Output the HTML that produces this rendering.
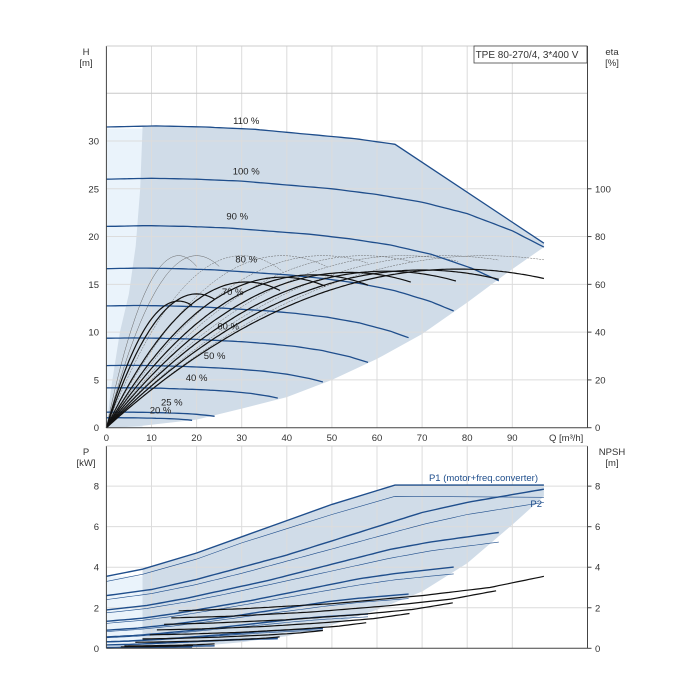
<!DOCTYPE html>
<html><head><meta charset="utf-8"><style>
body{margin:0;background:#fff}
svg{display:block;font-family:"Liberation Sans",sans-serif}
</style></head><body>
<svg id="c" width="700" height="700" viewBox="0 0 700 700"></svg>
<script>
const speeds=[1.1,1.0,0.9,0.8,0.7,0.6,0.5,0.4,0.25,0.2];
const speedLabels=["110 %","100 %","90 %","80 %","70 %","60 %","50 %","40 %","25 %","20 %"];
const labelQ=[31,31,29,31,28,27,24,20,14.5,12];
const labelH=[31.8,26.5,21.8,17.3,13.9,10.3,7.2,4.9,2.3,1.5];
const h100Q=[0,10,20,30,40,50,60,65,70,80,90,97];
const h100H=[26,26.1,26.0,25.8,25.4,25.0,24.4,24.0,23.6,22.4,20.6,18.9];
const maxPowerQ=[64,97];const maxPowerH=[29.3,19.3];
const etaPeakQ=[82,78,70,62,54,46,39,31,20,16];
const etaPeakVal=[66.5,66.4,66,65.5,65,64,63,61,56,53];
const thinPeakQ=[16,20,30,39,48,57,66,75,84];
const thinEndQ=[20,25,39,49,58,68,78,87,97];
const thinPeakEta=[72,72,72,72,72,72,72,72,72];
const p1Q=[0,10,20,30,40,50,60,70,80,97];
const p1P=[2.6,2.9,3.4,4.0,4.6,5.3,6.0,6.7,7.2,7.85];
const p2P=[2.4,2.7,3.15,3.7,4.3,4.9,5.5,6.1,6.6,7.2];
const p1Top=[[0,3.55],[8,3.9],[20,4.7],[30,5.5],[40,6.3],[50,7.1],[64,8.05],[97,8.05]];
const p2Top=[[0,3.3],[8,3.65],[20,4.4],[30,5.2],[40,5.9],[50,6.6],[64,7.5],[97,7.45]];
const npQ=[16,30,50,70,85,97];
const npV=[1.85,1.95,2.2,2.6,3.0,3.55];
const xTicks=[0,10,20,30,40,50,60,70,80,90];
const hTicks=[0,5,10,15,20,25,30];
const etaTicks=[0,20,40,60,80,100];
const pTicks=[0,2,4,6,8];

const R=587.5;
const X=q=>106.4+q*4.51, Y=h=>427.7-h*9.557, YE=e=>Y(e/4), YP=p=>648.3-p*20.27;
const svg=document.getElementById('c');const NS='http://www.w3.org/2000/svg';
function el(t,a,txt){const e=document.createElementNS(NS,t);for(const k in a)e.setAttribute(k,a[k]);if(txt!=null)e.textContent=txt;svg.appendChild(e);return e;}
function interp(xs,ys,x){if(x<=xs[0])return ys[0];for(let i=1;i<xs.length;i++)if(x<=xs[i]){const t=(x-xs[i-1])/(xs[i]-xs[i-1]);return ys[i-1]+t*(ys[i]-ys[i-1]);}return ys[ys.length-1];}
function pathOf(pts){return pts.map((p,i)=>(i?'L':'M')+p[0].toFixed(1)+' '+p[1].toFixed(1)).join(' ');}

let e;
e=el('rect',{x:X(0),y:Y(31.3),width:X(8)-X(0),height:Y(0)-Y(31.3),fill:'#eaf3fb'});

const topB=[];for(let q=8;q<=64;q+=2)topB.push([X(q),Y(1.21*interp(h100Q,h100H,q/1.1))]);
topB.push([X(97),Y(19.3)]);
const lowPts=[[97,18.9],[90,16.6],[80,13.1],[70,9.8],[60,7.2],[50,5],[40,3.2],[30,2],[20,0.85],[8,0.2],[2,0],[0,0]];
lowPts.forEach(p=>topB.push([X(p[0]),Y(p[1])]));
const leftB=[[1,4],[3,10],[5,14],[6.5,19],[7.5,25],[8,31.3]];
leftB.forEach(p=>topB.push([X(p[0]),Y(p[1])]));
e=el('path',{d:pathOf(topB)+'Z',fill:'#d0dce8'});


e=el('rect',{x:X(0),y:YP(3.55),width:X(8)-X(0),height:YP(0)-YP(3.55),fill:'#eaf3fb'});

const bb=p1Top.filter(p=>p[0]>=8).map(p=>[X(p[0]),YP(p[1])]);
[[97,7.5],[90,6.1],[80,4.2],[70,2.8],[60,1.9],[50,1.15],[40,0.6],[30,0.3],[20,0.1],[8,0],[8,0.2]].forEach(p=>bb.push([X(p[0]),YP(p[1])]));
e=el('path',{d:pathOf(bb)+'Z',fill:'#d0dce8'});


xTicks.forEach(q=>{if(q>0){let g=el('line',{x1:X(q),x2:X(q),y1:46,y2:Y(0),stroke:'#dcdcdc'});
g=el('line',{x1:X(q),x2:X(q),y1:446,y2:YP(0),stroke:'#dcdcdc'});}
let t=el('text',{x:X(q),y:441,'font-size':9.5,'text-anchor':'middle',fill:'#333'},q);});
[5,10,15,20,25,30,35].forEach(h=>{let g=el('line',{x1:X(0),x2:R,y1:Y(h),y2:Y(h),stroke:h==35?'#c8c8c8':'#dcdcdc'});});
hTicks.forEach(h=>{let t=el('text',{x:99,y:Y(h)+3.5,'font-size':9.5,'text-anchor':'end',fill:'#333'},h);});
etaTicks.forEach(v=>{let t=el('text',{x:595,y:YE(v)+3.5,'font-size':9.5,fill:'#333'},v);
let k=el('line',{x1:R,x2:R+4,y1:YE(v),y2:YE(v),stroke:'#444'});});
[2,4,6,8].forEach(p=>{let g=el('line',{x1:X(0),x2:R,y1:YP(p),y2:YP(p),stroke:'#dcdcdc'});});
pTicks.forEach(p=>{let t=el('text',{x:99,y:YP(p)+3.5,'font-size':9.5,'text-anchor':'end',fill:'#333'},p);
t=el('text',{x:595,y:YP(p)+3.5,'font-size':9.5,fill:'#333'},p);
let k=el('line',{x1:R,x2:R+4,y1:YP(p),y2:YP(p),stroke:'#444'});});

thinPeakQ.forEach((qp,i)=>{const pts=[];const qe=thinEndQ[i];for(let q=0;q<=qe;q+=0.5){const x=q/qp;pts.push([X(q),YE(thinPeakEta[i]*(2*x-x*x))]);}
let p=el('path',{d:pathOf(pts),fill:'none',stroke:'#666','stroke-width':0.5,'stroke-dasharray':i>1?'2 1':'none'});});

speeds.forEach((n,i)=>{const pts=[];const qe=n>1?64:97*n;for(let q=0;q<=qe+0.01;q+=1){pts.push([X(q),Y(n*n*interp(h100Q,h100H,q/n))]);}
if(n>1)pts.push([X(maxPowerQ[1]),Y(maxPowerH[1])]);
let p=el('path',{d:pathOf(pts),fill:'none',stroke:'#1f4e8c','stroke-width':1.3});
let t=el('text',{x:X(labelQ[i]),y:Y(labelH[i]),'font-size':9.5,'text-anchor':'middle',fill:'#222'},speedLabels[i]);});

speeds.forEach((n,i)=>{if(n>1)return;const pts=[];const qe=97*n;for(let q=0;q<=qe;q+=0.5){const x=q/etaPeakQ[i];pts.push([X(q),YE(etaPeakVal[i]*(2*x-x*x))]);}
let p=el('path',{d:pathOf(pts),fill:'none',stroke:'#111','stroke-width':1.2});});

speeds.forEach((n,i)=>{const mk=(arr,w,nm)=>{const pts=[];const qe=97*n;for(let q=0;q<=qe;q+=1)pts.push([X(q),YP(n*n*n*interp(p1Q,arr,q/n))]);let p=el('path',{d:pathOf(pts),fill:'none',stroke:'#1f4e8c','stroke-width':w});};
if(n>1){let p=el('path',{d:pathOf(p1Top.map(a=>[X(a[0]),YP(a[1])])),fill:'none',stroke:'#1f4e8c','stroke-width':1.4});
p=el('path',{d:pathOf(p2Top.map(a=>[X(a[0]),YP(a[1])])),fill:'none',stroke:'#1f4e8c','stroke-width':0.6});return;}
mk(p1P,1.4,'p1-curve');mk(p2P,0.6,'p2-curve');});

speeds.forEach((n,i)=>{if(n>1)return;const pts=[];for(let q=npQ[0]*n;q<=97*n;q+=1)pts.push([X(q),YP(n*n*interp(npQ,npV,q/n))]);
let p=el('path',{d:pathOf(pts),fill:'none',stroke:'#111','stroke-width':1.2});});

[[46,Y(0)],[446,YP(0)]].forEach(([t,b],k)=>{
let l=el('line',{x1:X(0),x2:X(0),y1:t,y2:b,stroke:'#444'});
l=el('line',{x1:R,x2:R,y1:t,y2:b,stroke:'#444'});
l=el('line',{x1:X(0),x2:R,y1:b,y2:b,stroke:'#444'});
l=el('line',{x1:X(0),x2:R,y1:t,y2:t,stroke:'#ccc'});});

function txt(x,y,s,nm,o){const a=Object.assign({x:x,y:y,'font-size':9.5,fill:'#333','text-anchor':'middle'},o||{});let t=el('text',a,s);}
txt(86,55,'H','h-axis-title');txt(86,66,'[m]','h-axis-unit');
txt(612,55,'eta','eta-axis-title');txt(612,66,'[%]','eta-axis-unit');
txt(86,455,'P','p-axis-title');txt(86,466,'[kW]','p-axis-unit');
txt(612,455,'NPSH','npsh-axis-title');txt(612,466,'[m]','npsh-axis-unit');
txt(549,441,'Q [m³/h]','q-axis-title',{'text-anchor':'start'});
txt(538,481,'P1 (motor+freq.converter)','p1-label',{'text-anchor':'end',fill:'#1f4e8c'});
txt(542,507,'P2','p2-label',{'text-anchor':'end',fill:'#1f4e8c'});
let b=el('rect',{x:474,y:46,width:113,height:17,fill:'#fff',stroke:'#444','stroke-width':0.8});
txt(527,58,'TPE 80-270/4, 3*400 V','chart-title',{'font-size':10});
</script>
</body></html>
